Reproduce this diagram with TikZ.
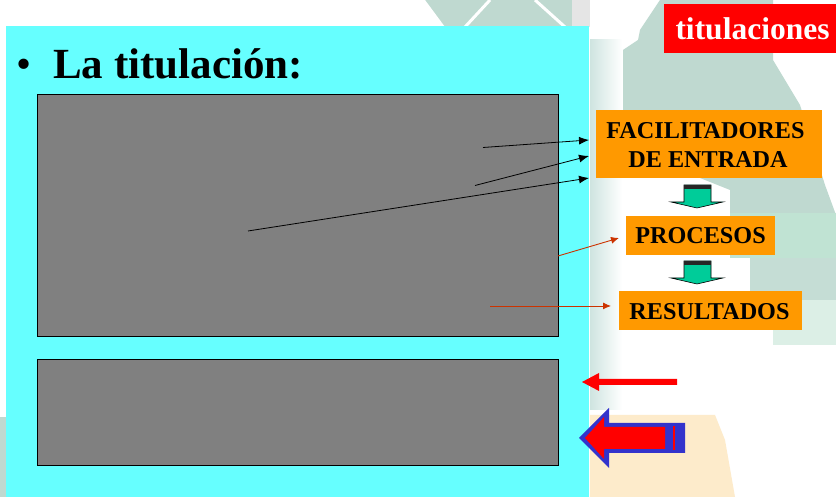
\documentclass[tikz,border=0pt]{standalone}
\usepackage{fontspec}
\setmainfont{Liberation Serif}
\usetikzlibrary{arrows.meta}
\definecolor{panelcyan}{HTML}{66FFFF}
\definecolor{boxgray}{HTML}{808080}
\definecolor{boxorange}{HTML}{FF9900}
\definecolor{downgreen}{HTML}{00CC99}
\definecolor{wmgreen}{HTML}{BFD9D0}
\definecolor{wmlight}{HTML}{C0E3D3}
\definecolor{wmpale}{HTML}{DCEFE6}
\definecolor{wmstrip}{HTML}{CFE4E0}
\definecolor{wmtan}{HTML}{FDEBCB}
\definecolor{linkred}{HTML}{CC3300}
\definecolor{bluerim}{HTML}{3333CC}
\tikzset{
  x=1pt,y=1pt,
  graybox/.style={draw=black,line width=0.8pt,fill=boxgray},
  orangebox/.style={fill=boxorange,inner sep=0pt,align=center,font=\bfseries\fontsize{24.2}{29}\selectfont},
  blacklink/.style={draw=black,line width=0.8pt,-{Latex[length=10pt,width=8pt]}},
  redlink/.style={draw=linkred,line width=0.9pt,-{Latex[length=8pt,width=7pt]}},
  downarrow/.style={fill=downgreen,draw=black,line width=0.6pt},
}
\begin{document}
\begin{tikzpicture}
\useasboundingbox (0,0) rectangle (836,497);
\fill[white] (0,0) rectangle (836,497);
% watermark (drawn in image coordinates, y downwards)
\begin{scope}[shift={(0,497)},yscale=-1]
\fill[wmgreen] (660,0) -- (773,0) -- (773,60) -- (800,105) -- (825,185) -- (836,215) -- (730,215) -- (730,190) -- (700,178) -- (623,178) -- (623,50) -- (638,40) -- (640,30) -- cycle;
\fill[wmlight] (730,213) rectangle (836,258);
\fill[wmgreen!90!white] (750,258) rectangle (836,300);
\fill[wmpale] (773,300) rectangle (836,345);
\shade[left color=wmstrip,right color=white] (590,40) rectangle (622,410);
\fill[wmtan] (590,415) -- (715,415) -- (725,440) -- (735,497) -- (590,497) -- cycle;
\fill[wmgreen] (425,0) rectangle (572,27);
\fill[black!10] (572,0) rectangle (590,27);
\fill[white] (425,0) -- (445,27) -- (425,27) -- cycle;
\draw[white,line width=3pt] (535,0) -- (565,27);
\draw[white,line width=3pt] (490,0) -- (465,27);
\fill[wmgreen] (0,417) rectangle (6,497);
\end{scope}
% panel
\fill[panelcyan] (6,0) rectangle (589,471);
\node[anchor=base west,font=\bfseries\fontsize{43}{48}\selectfont,inner sep=0pt] (title) at (53,418) {La titulación:};
\node[anchor=base west,font=\fontsize{43}{48}\selectfont,inner sep=0pt] (bullet) at (16.5,418) {•};
\draw[graybox] (37,160.5) rectangle (558.5,402.5);
\draw[graybox] (37,32) rectangle (558.5,138);
\node[fill=red,minimum width=172pt,minimum height=49pt,inner sep=0pt] (tit) at (750,468.5) {};
\node[text=white,font=\bfseries\fontsize{31.5}{36}\selectfont,inner sep=0pt,anchor=base] (titt) at (752.5,457) {titulaciones};
\node[orangebox,minimum width=226pt,minimum height=68pt] (fac) at (709,353) {};
\node[orangebox,anchor=base,inner sep=0pt] (fac1) at (705.5,358) {FACILITADORES};
\node[orangebox,anchor=base,inner sep=0pt] (fac2) at (708,329) {DE ENTRADA};
\node[orangebox,minimum width=149pt,minimum height=39pt] (pro) at (700.5,261) {};
\node[orangebox,anchor=base,inner sep=0pt] (prot) at (700.5,253) {PROCESOS};
\node[orangebox,minimum width=183pt,minimum height=39pt] (res) at (710.5,186) {};
\node[orangebox,anchor=base,inner sep=0pt] (rest) at (709.5,177.5) {RESULTADOS};
% down arrows
\foreach \n/\y in {a/312,b/236}{
  \draw[downarrow] (684,\y) -- (684,\y-17) -- (671,\y-17) -- (697,\y-23) -- (723,\y-17) -- (711,\y-17) -- (711,\y) -- cycle;
  \fill[black!85] (684,\y) rectangle (711,\y-4);
}
% connectors
\coordinate (s1) at (483,349.5);
\coordinate (s2) at (475,311.5);
\coordinate (s3) at (248,266);
\coordinate (s4) at (558,241);
\coordinate (s5) at (490,191);
\coordinate (e1) at (589,357);
\coordinate (e2) at (589,341);
\coordinate (e3) at (589,319);
\coordinate (e4) at (619,259);
\coordinate (e5) at (611,191);
\draw[blacklink] (s1) -- (e1);
\draw[blacklink] (s2) -- (e2);
\draw[blacklink] (s3) -- (e3);
\draw[redlink] (s4) -- (e4);
\draw[redlink] (s5) -- (e5);
% red arrow
\fill[red] (677,118) -- (599,118) -- (599,124) -- (582,115) -- (599,106) -- (599,112) -- (677,112) -- cycle;
% block arrow
\fill[bluerim] (685,74) -- (685,44) -- (609,44) -- (609,29) -- (579,59) -- (609,89) -- (609,74) -- cycle;
\fill[red] (665,70) -- (665,48) -- (604,48) -- (604,38) -- (585,59) -- (604,80) -- (604,70) -- cycle;
\fill[red] (673,71) rectangle (675,47);
\end{tikzpicture}
\end{document}
